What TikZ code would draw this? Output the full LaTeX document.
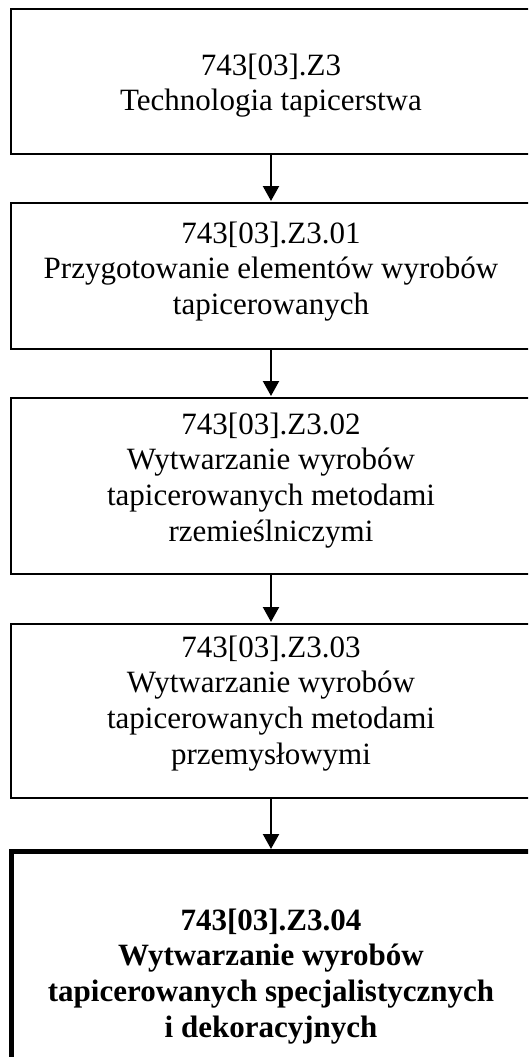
\documentclass[tikz,border=0pt]{standalone}
\usepackage{fontspec}
\setmainfont{Liberation Serif}
\usetikzlibrary{arrows.meta}
\begin{document}
\begin{tikzpicture}[x=1pt,y=-1pt,
  frame/.style={draw=black,line width=2.2pt,minimum width=600pt,inner sep=0pt,outer sep=0pt},
  thickframe/.style={frame,line width=5pt},
  txt/.style={anchor=base,inner sep=0pt,font=\fontsize{31}{35.7}\selectfont},
  flow/.style={line width=2.2pt,-{Triangle[length=15pt,width=16pt]},shorten >=2pt}]
\path[use as bounding box,clip] (0,0) rectangle (528,1057);
\node[frame,minimum height=145pt] (b1) at (311,81.5) {};
\node[frame,minimum height=146pt] (b2) at (311,276) {};
\node[frame,minimum height=176pt] (b3) at (311,486) {};
\node[frame,minimum height=174pt] (b4) at (311,711) {};
\node[thickframe,minimum height=269pt] (b5) at (311.5,985.5) {};
\node[txt] (t1) at (271,75) {\begin{tabular}[t]{@{}c@{}}743[03].Z3\\Technologia tapicerstwa\end{tabular}};
\node[txt] (t2) at (271,243) {\begin{tabular}[t]{@{}c@{}}743[03].Z3.01\\Przygotowanie elementów wyrobów\\tapicerowanych\end{tabular}};
\node[txt] (t3) at (271,434) {\begin{tabular}[t]{@{}c@{}}743[03].Z3.02\\Wytwarzanie wyrobów\\tapicerowanych metodami\\rzemieślniczymi\end{tabular}};
\node[txt] (t4) at (271,657) {\begin{tabular}[t]{@{}c@{}}743[03].Z3.03\\Wytwarzanie wyrobów\\tapicerowanych metodami\\przemysłowymi\end{tabular}};
\node[txt,font=\fontsize{31}{35.7}\selectfont\bfseries] (t5) at (271,930) {\begin{tabular}[t]{@{}c@{}}743[03].Z3.04\\Wytwarzanie wyrobów\\tapicerowanych specjalistycznych\\i dekoracyjnych\end{tabular}};
\draw[flow] (b1.south -| t1.base) -- (b2.north -| t1.base);
\draw[flow] (b2.south -| t1.base) -- (b3.north -| t1.base);
\draw[flow] (b3.south -| t1.base) -- (b4.north -| t1.base);
\draw[flow] (b4.south -| t1.base) -- (b5.north -| t1.base);
\end{tikzpicture}
\end{document}
